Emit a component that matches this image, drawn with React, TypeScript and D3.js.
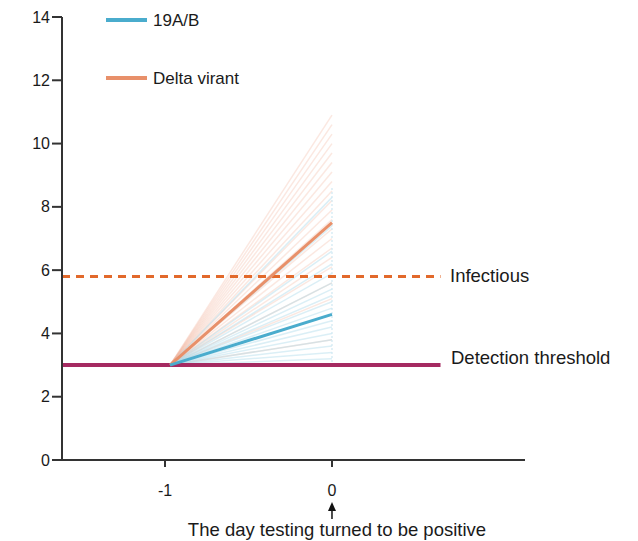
import * as d3 from 'd3'
import React from 'react'

// day relative to positive test
const startDay = -0.97
const endDay = 0
const startLoad = 3

// individual trajectories (end value at day 0)
const deltaEnds = [10.9, 10.6, 10.3, 10.0, 9.7, 9.4, 9.1, 8.8, 8.5, 8.2, 7.9, 7.6, 7.3, 7.0, 6.7, 6.4, 6.1, 5.6, 5.1, 4.6, 3.8]
const wildEnds = [8.3, 7.4, 6.6, 6.2, 5.9, 5.6, 5.4, 5.2, 5.0, 4.8, 4.6, 4.4, 4.2, 4.0, 3.8, 3.6, 3.4, 3.2]

// mean trajectories
const deltaMean = 7.5
const wildMean = 4.6

const infectious = 5.8
const detection = 3.0

const yTicks = [0, 2, 4, 6, 8, 10, 12, 14]
const xTicks = [-1, 0]

const W = 638
const H = 541
const FONT = 'Liberation Sans, Arial, sans-serif'

const App = () => {
  const x = d3.scaleLinear().domain([-1.617, 1.156]).range([62, 525])
  const y = d3.scaleLinear().domain([0, 14]).range([460, 17])
  const line = d3
    .line<[number, number]>()
    .x((d) => x(d[0]))
    .y((d) => y(d[1]))

  const seg = (v: number) => line([[startDay, startLoad], [endDay, v]]) as string
  const refEnd = 0.65

  return (
    <svg width={W} height={H} style={{ position: 'absolute', left: 0, top: 0 }} fontFamily={FONT}>
      <rect width={W} height={H} fill="#fff" />

      {/* faint individual lines */}
      {deltaEnds.map((v, i) => (
        <path key={'d' + i} d={seg(v)} stroke="#f2ad92" strokeOpacity={0.28} strokeWidth={1.5} fill="none" />
      ))}
      {wildEnds.map((v, i) => (
        <path key={'w' + i} d={seg(v)} stroke="#a6d6e8" strokeOpacity={0.4} strokeWidth={1.5} fill="none" />
      ))}
      <line
        x1={x(endDay)}
        x2={x(endDay)}
        y1={y(3.1)}
        y2={y(8.6)}
        stroke="#cfe8f2"
        strokeWidth={1.2}
        strokeDasharray="2,2"
      />

      {/* reference lines */}
      <line x1={x.range()[0]} x2={x(refEnd)} y1={y(infectious)} y2={y(infectious)} stroke="#e2692b" strokeWidth={3} strokeDasharray="8,6" />
      <text x={450} y={y(infectious) + 6} fontSize={18.5} fill="#1a1a1a">Infectious</text>
      <line x1={x.range()[0]} x2={x(refEnd)} y1={y(detection)} y2={y(detection)} stroke="#a52a61" strokeWidth={4} />
      <text x={451} y={y(detection) - 1} fontSize={18.5} fill="#1a1a1a">Detection threshold</text>

      {/* mean lines */}
      <path d={seg(deltaMean)} stroke="#e8906a" strokeWidth={3} fill="none" />
      <path d={seg(wildMean)} stroke="#4aaccd" strokeWidth={3} fill="none" />

      {/* axes */}
      <line x1={62} x2={62} y1={y(14)} y2={y(0)} stroke="#333" strokeWidth={2} />
      {yTicks.map((t) => (
        <g key={t} transform={`translate(62,${y(t)})`}>
          <line x1={-10} x2={0} stroke="#333" strokeWidth={2} />
          <text x={-12} dy="0.35em" textAnchor="end" fontSize={16} fill="#1a1a1a">{t}</text>
        </g>
      ))}
      <line x1={61} x2={525} y1={y(0)} y2={y(0)} stroke="#333" strokeWidth={2} />
      {xTicks.map((t) => (
        <g key={t} transform={`translate(${x(t)},${y(0)})`}>
          <line y1={0} y2={7} stroke="#333" strokeWidth={2} />
          <text y={36} textAnchor="middle" fontSize={16} fill="#1a1a1a">{t}</text>
        </g>
      ))}

      {/* arrow and axis note */}
      <line x1={x(0)} x2={x(0)} y1={519} y2={508} stroke="#111" strokeWidth={1.5} />
      <path d={`M${x(0) - 4},${511} L${x(0)},${502} L${x(0) + 4},${511} Z`} fill="#111" />
      <text x={x(0) + 5} y={536} textAnchor="middle" fontSize={18.5} fill="#1a1a1a">The day testing turned to be positive</text>

      {/* legend */}
      <line x1={106} x2={147} y1={20} y2={20} stroke="#4aaccd" strokeWidth={4} />
      <text x={153} y={26} fontSize={17} fill="#1a1a1a">19A/B</text>
      <line x1={106} x2={147} y1={78} y2={78} stroke="#e8906a" strokeWidth={4} />
      <text x={153} y={84} fontSize={17} fill="#1a1a1a">Delta virant</text>
    </svg>
  )
}

export default App
